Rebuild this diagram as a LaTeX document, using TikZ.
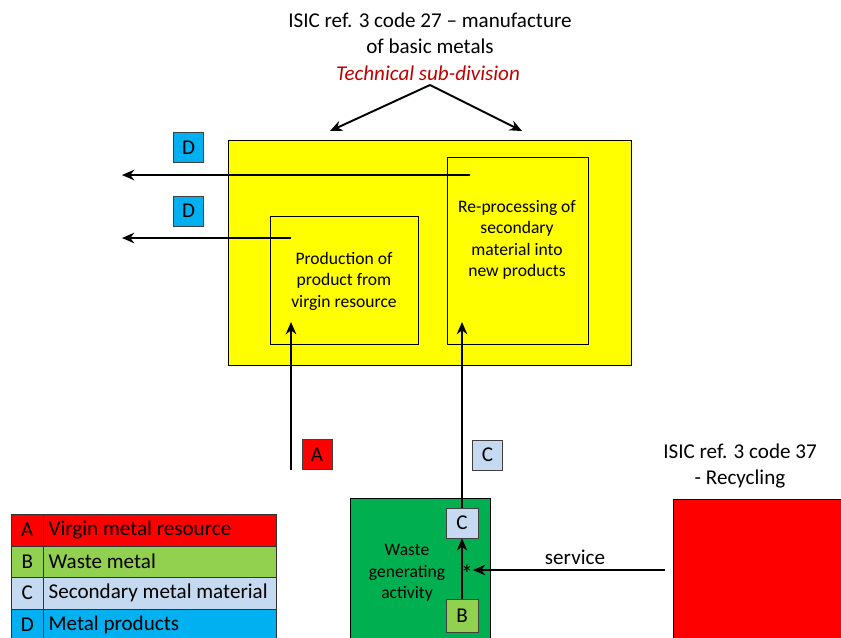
\documentclass[tikz,border=0pt]{standalone}
\usepackage{fontspec}
\setmainfont{Carlito}
\usetikzlibrary{arrows.meta}
\definecolor{yelbox}{RGB}{255,255,0}
\definecolor{grnbox}{RGB}{0,176,80}
\definecolor{ltgrn}{RGB}{146,208,80}
\definecolor{ltblue}{RGB}{197,217,241}
\definecolor{cyanbox}{RGB}{0,176,240}
\definecolor{redbox}{RGB}{255,0,0}
\definecolor{darkred}{RGB}{192,0,0}
\tikzset{
  box/.style={draw, inner sep=0pt, anchor=north west},
  tag/.style={draw=black!75, minimum width=0.6cm, minimum height=0.6cm, inner sep=0pt, font=\fontsize{12}{14}\selectfont},
  flow/.style={line width=1.1pt, -{Stealth[length=7pt,width=6pt]}},
  txt/.style={align=center, inner sep=0pt},
  small/.style={font=\fontsize{10}{12.2}\selectfont},
  big/.style={font=\fontsize{12}{14.7}\selectfont},
  legcell/.style={draw=black!80, anchor=north west, inner sep=0pt, minimum height=0.63cm, font=\fontsize{12}{14}\selectfont},
  legtext/.style={anchor=west, inner sep=0pt, xshift=3pt, font=\fontsize{12}{14}\selectfont},
}
\begin{document}
\begin{tikzpicture}[x=0.02cm,y=-0.02cm]
	%%%%% FRAME %%%%%
	\useasboundingbox (0,0) rectangle (841,637);
	\clip (0,0) rectangle (841,637);
	
	%%%%% TITLE %%%%%
	\node[txt, big] (title) at (430,33) {ISIC ref. 3 code 27 -- manufacture\\of basic metals};
	\node[txt, big, font=\fontsize{12}{14.7}\selectfont\itshape, text=darkred] (subdiv) at (428,73) {Technical sub-division};
	\coordinate (split) at (430,85);
	\coordinate (splitL) at (330,131);
	\coordinate (splitR) at (522,131);
	\draw[flow] (split) -- (splitL);
	\draw[flow] (split) -- (splitR);
	
	%%%%% BASIC METALS %%%%%
	\node[box, fill=yelbox, minimum width=8.06cm, minimum height=4.5cm] (metals) at (228,140) {};
	\node[box, minimum width=2.96cm, minimum height=2.56cm] (virgin) at (270,216) {};
	\node[txt, small] (virgintxt) at (344,281) {Production of\\product from\\virgin resource};
	\node[box, minimum width=2.82cm, minimum height=3.74cm] (reproc) at (447,157) {};
	\node[txt, small] (reproctxt) at (517,240) {Re-processing of\\secondary\\material into\\new products};
	
	%%%%% PRODUCTS D %%%%%
	\node[tag, fill=cyanbox] (d1) at (188.5,147.5) {D};
	\node[tag, fill=cyanbox] (d2) at (188.5,211) {D};
	\coordinate (reprocout) at (470,175);
	\coordinate (d1end) at (122,175);
	\coordinate (virginout) at (291,238);
	\coordinate (d2end) at (122,238);
	\draw[flow] (reprocout) -- (d1end);
	\draw[flow] (virginout) -- (d2end);
	
	%%%%% INPUTS A AND C %%%%%
	\node[tag, fill=redbox] (a) at (317,454.5) {A};
	\node[tag, fill=ltblue] (c) at (487.5,455) {C};
	\coordinate (astart) at (291,470);
	\coordinate (virginin) at (291,322);
	\coordinate (reprocin) at (462,322);
	\draw[flow] (astart) -- (virginin);
	
	%%%%% WASTE %%%%%
	\node[box, fill=grnbox, minimum width=2.8cm, minimum height=3cm] (waste) at (350,498) {};
	\node[txt, small] (wastetxt) at (407,573) {Waste\\generating\\activity};
	\node[tag, fill=ltblue, minimum width=0.64cm] (csmall) at (462,523) {C};
	\node[tag, fill=ltgrn, minimum width=0.64cm, minimum height=0.66cm] (bsmall) at (462,615.5) {B};
	\draw[flow] (csmall) -- (reprocin);
	\draw[flow] (bsmall) -- (csmall);
	\node[inner sep=0pt, font=\fontsize{14}{14}\selectfont] (star) at (467,574) {*};
	
	%%%%% RECYCLING %%%%%
	\node[txt, big] (recyc) at (740,466) {ISIC ref. 3 code 37\\- Recycling};
	\node[box, fill=redbox, minimum width=3.6cm, minimum height=3cm] (recycbox) at (673,499) {};
	\coordinate (servstart) at (665,570);
	\coordinate (servend) at (473,570);
	\draw[flow] (servstart) -- (servend);
	\node[txt, big] (service) at (575,557) {service};
	
	%%%%% LEGEND %%%%%
	\node[legcell, fill=redbox, minimum width=0.64cm] (la) at (11,514) {A};
	\node[legcell, fill=redbox, minimum width=4.66cm] (lat) at (43,514) {};
	\node[legtext] at (lat.west) {Virgin metal resource};
	\node[legcell, fill=ltgrn, minimum width=0.64cm] (lb) at (11,545.5) {B};
	\node[legcell, fill=ltgrn, minimum width=4.66cm] (lbt) at (43,545.5) {};
	\node[legtext] at (lbt.west) {Waste metal};
	\node[legcell, fill=ltblue, minimum width=0.64cm] (lc) at (11,577) {C};
	\node[legcell, fill=ltblue, minimum width=4.66cm] (lct) at (43,577) {};
	\node[legtext] at (lct.west) {Secondary metal material};
	\node[legcell, fill=cyanbox, minimum width=0.64cm] (ld) at (11,608.5) {D};
	\node[legcell, fill=cyanbox, minimum width=4.66cm] (ldt) at (43,608.5) {};
	\node[legtext] at (ldt.west) {Metal products};
\end{tikzpicture}
\end{document}
